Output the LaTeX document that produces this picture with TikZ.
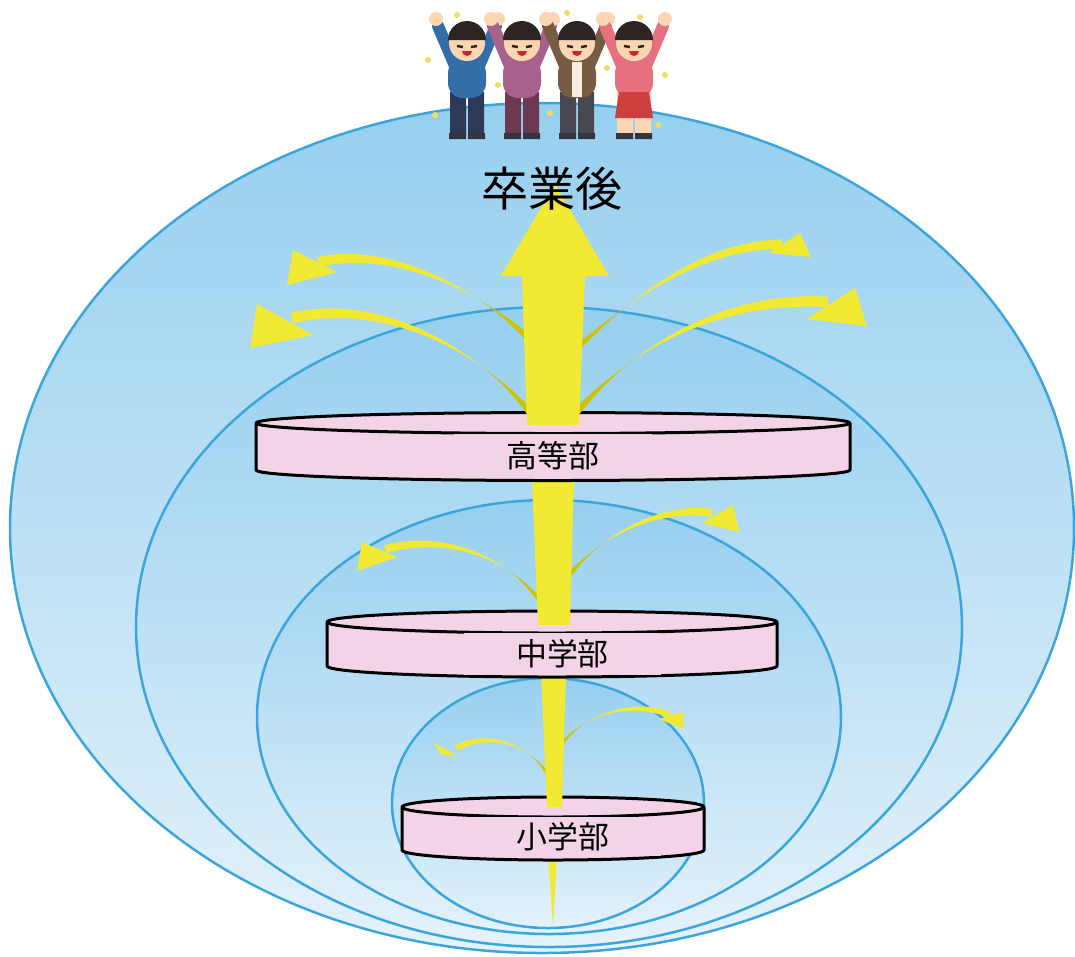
\documentclass[tikz,border=0pt]{standalone}
\usepackage{fontspec}
\newfontfamily\jp{Noto Sans CJK JP}
\usetikzlibrary{calc}

\definecolor{ringblue}{RGB}{60,166,220}
\definecolor{skytop}{RGB}{150,207,239}
\definecolor{skybot}{RGB}{228,242,251}
\definecolor{drumpink}{RGB}{242,212,230}
\definecolor{twigyellow}{RGB}{242,234,50}
\definecolor{twigolive}{RGB}{204,194,0}
\definecolor{skin}{RGB}{252,214,178}
\definecolor{hair}{RGB}{45,36,36}
\definecolor{shoe}{RGB}{52,52,62}
\definecolor{mouth}{RGB}{200,40,44}
\definecolor{spark}{RGB}{240,222,100}
\definecolor{coatA}{RGB}{52,110,168}
\definecolor{legA}{RGB}{44,58,88}
\definecolor{coatB}{RGB}{168,96,140}
\definecolor{legB}{RGB}{108,56,82}
\definecolor{coatC}{RGB}{118,92,66}
\definecolor{legC}{RGB}{72,72,80}
\definecolor{coatD}{RGB}{230,112,126}
\definecolor{skirt}{RGB}{206,62,62}

% a school level: flat pink drum (centre x, half width, top y, bottom y, rim depth)
\newcommand\tier[5]{%
  \filldraw[drum] (#1-#2,#3) -- (#1-#2,#4)
    arc[start angle=180,end angle=360,x radius=#2,y radius=#5]
    -- (#1+#2,#3) arc[start angle=0,end angle=180,x radius=#2,y radius=#5] -- cycle;
  \draw[drumline] (#1-#2,#3) arc[start angle=180,end angle=360,x radius=#2,y radius=#5];
}

% a bent ribbon arrow: base, two controls, end of ribbon, head (3 points), half width
\newcommand\twig[8]{%
  \coordinate (twb) at #1; \coordinate (twc) at #2;
  \coordinate (twd) at #3; \coordinate (twj) at #4;
  \coordinate (twp1) at ($(twb)!.3!(twc)$);
  \coordinate (twp2) at ($(twc)!.3!(twd)$);
  \coordinate (twp3) at ($(twd)!.3!(twj)$);
  \coordinate (twq1) at ($(twp1)!.3!(twp2)$);
  \coordinate (twq2) at ($(twp2)!.3!(twp3)$);
  \coordinate (twt) at ($(twq1)!.3!(twq2)$);
  \fill[twigback] ($(twb)!#8*.6!90:(twp1)$) .. controls ($(twp1)!#8*.5!-90:(twb)$) and (twq1) .. (twt)
    .. controls (twq1) and ($(twp1)!#8*.5!90:(twb)$) .. ($(twb)!#8*.6!-90:(twp1)$) -- cycle;
  \fill[twig] (twt) .. controls ($(twq2)!#8*.45!-90:(twp3)$) and ($(twp3)!#8!-90:(twj)$) .. ($(twj)!#8!90:(twp3)$)
    -- ($(twj)!#8!-90:(twp3)$) .. controls ($(twp3)!#8!90:(twj)$) and ($(twq2)!#8*.45!90:(twp3)$) .. (twt) -- cycle;
  \fill[twig] #5 -- #6 -- #7 -- cycle;
}

\begin{document}
\begin{tikzpicture}[x=0.1mm,y=0.1mm]
	\tikzstyle{shell}=[draw=ringblue,line width=.25mm,top color=skytop,bottom color=skybot];
	\tikzstyle{drum}=[draw=black,line width=.3mm,fill=drumpink,line join=round];
	\tikzstyle{drumline}=[draw=black,line width=.3mm];
	\tikzstyle{tag}=[fill=drumpink,inner sep=0pt,font=\fontsize{8.8}{10}\jp];
	\tikzstyle{twig}=[fill=twigyellow];
	\tikzstyle{twigback}=[fill=twigolive];
	\tikzstyle{stem}=[fill=twigyellow];
	\tikzstyle{arm}=[line width=1.2mm,line cap=round];

	\useasboundingbox (0,0) rectangle (1075,-956);

	% nested levels
	\draw[shell] (542,-528) ellipse [x radius=532,y radius=425];
	\draw[shell] (549,-627) ellipse [x radius=413,y radius=320];
	\draw[shell] (549,-717) ellipse [x radius=292,y radius=217];
	\draw[shell] (548,-803) ellipse [x radius=156,y radius=125];

	% elementary
	\fill[stem] (548,-855) -- (557,-855) -- (553,-928) -- cycle;
	\tier{553}{151}{-807}{-850}{10}
	\node[tag,minimum width=19.6mm,minimum height=3.9mm] (sho) at (563,-836.5) {小学部};
	\twig{(549,-776)}{(530,-745)}{(490,-730)}{(456,-748)}{(434,-743)}{(442,-755)}{(457,-755)}{.8pt}
	\twig{(560,-746)}{(585,-712)}{(635,-700)}{(670,-715)}{(683,-712)}{(683,-729)}{(659,-719)}{.8pt}
	\fill[stem] (541,-672) -- (566,-672) -- (562,-807) -- (547,-807) -- cycle;

	% junior high
	\tier{552}{225}{-622}{-666}{11}
	\node[tag,minimum width=19.7mm,minimum height=4.2mm] (chu) at (562.5,-654) {中学部};
	\twig{(541,-602)}{(510,-560)}{(450,-532)}{(385,-549)}{(362,-542)}{(357,-571)}{(397,-557)}{1.1pt}
	\twig{(566,-579)}{(600,-535)}{(660,-505)}{(712,-513)}{(733,-505)}{(739,-532)}{(702,-523)}{1.1pt}
	\fill[stem] (532,-478) -- (574,-478) -- (570,-625) -- (538,-625) -- cycle;

	% high school
	\tier{553}{297}{-423}{-470}{10.5}
	\node[tag,minimum width=19.8mm,minimum height=4.45mm] (kou) at (553,-456) {高等部};
	\twig{(528,-338)}{(480,-290)}{(390,-245)}{(318,-262)}{(293,-250)}{(287,-285)}{(337,-272)}{1.4pt}
	\twig{(531,-414)}{(490,-360)}{(390,-295)}{(292,-318)}{(257,-304)}{(250,-348)}{(313,-335)}{1.5pt}
	\twig{(578,-347)}{(630,-300)}{(700,-245)}{(782,-244)}{(800,-233)}{(811,-257)}{(769,-253)}{1.3pt}
	\twig{(577,-412)}{(630,-350)}{(720,-295)}{(828,-302)}{(855,-288)}{(867,-326)}{(807,-319)}{1.5pt}
	\fill[stem] (527,-425) -- (522,-276) -- (501,-276) -- (555,-184) -- (609,-276)
		-- (585,-276) -- (579,-425) -- cycle;

	\node[font=\fontsize{13.4}{16}\jp] (grad) at (552,-189) {卒業後};

	% cheering graduates
	\foreach \p in {(428,-60),(457,-15),(567,-13),(640,-17),(498,-85),(607,-68),(665,-75),(435,-115),(550,-113),(658,-125)}
		\fill[spark] \p circle (3);
	\foreach \x/\shirt/\pants in {467/coatA/legA,522/coatB/legB,577/coatC/legC,634/coatD/skin}{
		\draw[arm,\shirt] (\x-12,-66) -- (\x-29,-26);
		\draw[arm,\shirt] (\x+12,-66) -- (\x+29,-26);
		\fill[skin] (\x-31,-19) circle (7) (\x+31,-19) circle (7);
		\fill[\pants] (\x-17,-92) rectangle (\x-1,-134) (\x+1,-92) rectangle (\x+17,-134);
		\fill[shoe] (\x-18,-133) rectangle (\x-1,-139) (\x+1,-133) rectangle (\x+18,-139);
		\fill[\shirt,rounded corners=1.5mm] (\x-19,-98) rectangle (\x+19,-58);
		\fill[skin] (\x,-43) circle (18);
		\fill[hair] (\x-19,-40) arc[start angle=180,end angle=0,radius=19] -- cycle;
		\draw[hair,line width=.25mm] (\x-10,-46) -- (\x-4,-47) (\x+4,-47) -- (\x+10,-46);
		\fill[mouth] (\x-5,-51) arc[start angle=180,end angle=360,radius=5] -- cycle;
	}
	\fill[white!85!brown] (572,-62) rectangle (582,-97);
	\fill[skirt] (619,-92) -- (649,-92) -- (653,-118) -- (615,-118) -- cycle;
\end{tikzpicture}
\end{document}
